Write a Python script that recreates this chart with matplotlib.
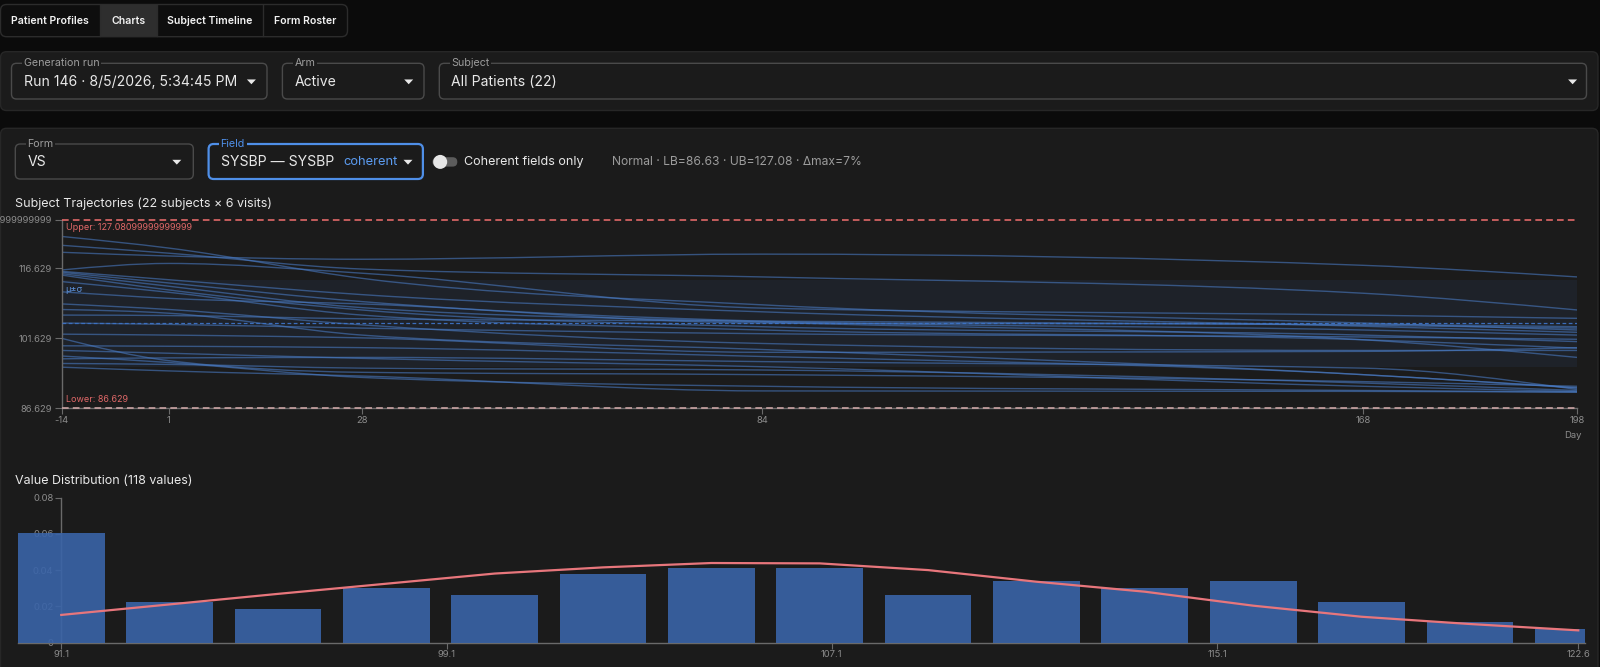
import numpy as np
import matplotlib
matplotlib.use('Agg')
import matplotlib.pyplot as plt
from matplotlib.patches import FancyBboxPatch, Rectangle, Polygon, Circle, PathPatch
from matplotlib.path import Path

# ---------------- data ----------------
days = [-14, 1, 28, 84, 168, 198]
subject_values = [
    [123.5, 121.0, 114.5, 108.8, 104.9, 103.4],
    [121.6, 119.9, 116.5, 114.8, 111.3, 107.7],
    [120.1, 119.3, 118.6, 119.7, 117.3, 114.8],
    [116.3, 117.7, 115.6, 108.1, 106.6, 105.9],
    [116.0, 114.2, 111.0, 107.3, 104.2, 102.9],
    [115.8, 113.5, 109.5, 105.3, 103.4, 102.3],
    [115.5, 112.8, 108.2, 105.1, 101.3, 97.5],
    [115.2, 112.0, 107.7, 104.1, 102.3, 100.9],
    [113.8, 111.5, 106.6, 103.4, 101.3, 99.5],
    [111.6, 110.2, 109.0, 104.9, 104.6, 104.1],
    [106.6, 106.5, 105.8, 105.3, 104.4, 103.8],
    [104.9, 104.6, 103.8, 102.6, 101.9, 101.4],
    [102.5, 102.3, 101.7, 98.6, 98.8, 99.6],
    [101.6, 96.8, 94.3, 93.8, 92.3, 91.3],
    [100.0, 99.9, 99.6, 97.7, 93.8, 90.9],
    [97.2, 97.4, 97.5, 96.6, 95.2, 90.6],
    [99.0, 98.4, 97.3, 95.5, 91.3, 90.2],
    [96.2, 96.0, 95.2, 94.8, 92.0, 90.4],
    [97.8, 96.4, 93.2, 91.3, 90.4, 90.1],
    [95.4, 94.6, 93.5, 90.3, 90.2, 90.0],
    [109.0, 107.8, 104.5, 100.5, 99.0, 99.0],
    [107.8, 107.0, 102.3, 99.2, 93.8, 91.0],
]
lower_bound = 86.629
upper_bound = 127.081
upper_label = "127.08099999999999"
mean_value = 104.8
sd_value = 9.3
y_ticks = [86.629, 101.629, 116.629, 127.081]
y_tick_labels = ["86.629", "101.629", "116.629", "127.08099999999999"]

bin_centers = [91.1, 93.35, 95.6, 97.85, 100.1, 102.35, 104.6, 106.85,
               109.1, 111.35, 113.6, 115.85, 118.1, 120.35, 122.6]
bin_counts = [16, 6, 5, 8, 7, 10, 11, 11, 7, 9, 8, 9, 6, 3, 2]
n_values = 118
bin_width = 2.25
normal_curve = [0.0153, 0.0211, 0.0269, 0.0325, 0.0381, 0.0415, 0.0439, 0.0437,
                0.0400, 0.0336, 0.0281, 0.0204, 0.0143, 0.0103, 0.0068]
hist_xticks = [91.1, 99.1, 107.1, 115.1, 122.6]
hist_yticks = [0, 0.02, 0.04, 0.06, 0.08]
hist_ytick_labels = ["0", "0.02", "0.04", "0.06", "0.08"]

tabs = ["Patient Profiles", "Charts", "Subject Timeline", "Form Roster"]

# ---------------- style ----------------
plt.rcParams['font.family'] = ['Inter', 'DejaVu Sans']
W, H = 1600, 667
PAGE = '#0b0b0b'
PANEL = '#1b1b1b'
PANEL_EC = '#272727'
BOX_EC = '#4a4a4a'
TXT = '#e8e8e8'
SUB = '#9c9c9c'
TICK = '#8c8c8c'
AXIS = '#6a6a6a'
BLUE = '#4f8fe8'
RED = '#e06868'
VAL_FS = 10.1
TICK_FS = 6.8

fig = plt.figure(figsize=(16, 6.67), dpi=100)
fig.patch.set_facecolor(PAGE)

ui = fig.add_axes([0, 0, 1, 1])
ui.set_xlim(0, W)
ui.set_ylim(H, 0)
ui.axis('off')


def px_axes(l, t, r, b):
    return fig.add_axes([l / W, 1 - b / H, (r - l) / W, (b - t) / H])


def rbox(x0, y0, x1, y1, fc, ec, lw=1.0, r=5, z=1):
    p = FancyBboxPatch((x0, y0), x1 - x0, y1 - y0,
                       boxstyle=f"round,pad=0,rounding_size={r}",
                       fc=fc, ec=ec, lw=lw, zorder=z)
    ui.add_patch(p)


def arrow(cx, cy, color=TXT):
    ui.add_patch(Polygon([(cx - 4.5, cy - 2.2), (cx + 4.5, cy - 2.2), (cx, cy + 2.6)],
                         closed=True, fc=color, ec='none', zorder=5))


def dropdown(x0, y0, x1, y1, label, value, arrow_x, ec=BOX_EC, lab_color=SUB, lw=1.0):
    rbox(x0, y0, x1, y1, PANEL, ec, lw=lw, r=5, z=3)
    ui.text(x0 + 12, y0, label, color=lab_color, fontsize=7.7, ha='left', va='center',
            zorder=6, bbox=dict(fc=PANEL, ec='none', pad=1.2))
    cy = (y0 + y1) / 2 + 0.5
    if value:
        ui.text(x0 + 12, cy, value, color=TXT, fontsize=VAL_FS, ha='left', va='center', zorder=6)
    arrow(arrow_x, cy)


# tabs
rbox(0.5, 4.5, 347.5, 36.7, '#0e0e0e', '#2c2c2c', r=6, z=1)
ui.add_patch(Rectangle((99.5, 5), 57.4, 31.2, fc='#2e2e2e', ec='none', zorder=2))
for xd in [99.5, 156.9, 263.3]:
    ui.plot([xd, xd], [5, 36.2], color='#2c2c2c', lw=1, zorder=3)
tab_cx = [49.8, 128.2, 210.1, 305.4]
for t, cx in zip(tabs, tab_cx):
    ui.text(cx, 21.3, t, color='#f2f2f2', fontsize=7.6, fontweight='semibold',
            ha='center', va='center', zorder=4)

# top filter panel
rbox(0.5, 51.7, 1598, 110.5, PANEL, PANEL_EC, r=6, z=1)
dropdown(11.5, 63.3, 267, 99, "Generation run", "Run 146 · 8/5/2026, 5:34:45 PM", 251.4)
dropdown(282.4, 63.3, 424, 99, "Arm", "Active", 408.7)
dropdown(439.3, 63.3, 1586.5, 99, "Subject", "All Patients (22)", 1572.6)

# second panel
rbox(0.5, 128.3, 1598, 720, PANEL, PANEL_EC, r=6, z=1)
dropdown(15.3, 144, 193.3, 179, "Form", "VS", 176.8)
dropdown(208.6, 144, 422.9, 179, "Field", None, 408, ec=BLUE, lab_color=BLUE, lw=1.6)
ui.text(220.8, 162, "SYSBP — SYSBP", color=TXT, fontsize=VAL_FS, ha='left', va='center', zorder=6)
ui.text(343.3, 162, "coherent", color='#5b9bf0', fontsize=9.3, ha='left', va='center', zorder=6)
# toggle
rbox(432.5, 157.2, 457.3, 166.6, '#5c5c5c', 'none', r=4.7, z=3)
ui.add_patch(Circle((440.2, 161.9), 7.0, fc='#e6e6e6', ec='none', zorder=4))
ui.text(464.2, 162, "Coherent fields only", color=TXT, fontsize=9.0, ha='left', va='center', zorder=6)
ui.text(611.7, 162.3, "Normal · LB=86.63 · UB=127.08 · Δmax=7%", color=SUB, fontsize=8.7,
        ha='left', va='center', zorder=6)

ui.text(15, 204, "Subject Trajectories (22 subjects × 6 visits)", color=TXT, fontsize=9.0,
        ha='left', va='center', zorder=6)
ui.text(15, 480.7, "Value Distribution (118 values)", color=TXT, fontsize=9.0,
        ha='left', va='center', zorder=6)
ui.text(1572.7, 435, "Day", color=TICK, fontsize=TICK_FS, ha='center', va='center', zorder=6)


# ---------------- trajectories ----------------
def monotone_path(xs, ys):
    xs = np.asarray(xs, float)
    ys = np.asarray(ys, float)
    n = len(xs)
    h = np.diff(xs)
    s = np.diff(ys) / h
    t = np.zeros(n)
    for i in range(1, n - 1):
        p = (s[i - 1] * h[i] + s[i] * h[i - 1]) / (h[i - 1] + h[i])
        t[i] = (np.sign(s[i - 1]) + np.sign(s[i])) * min(abs(s[i - 1]), abs(s[i]), 0.5 * abs(p))
    t[0] = (3 * s[0] - t[1]) / 2
    t[-1] = (3 * s[-1] - t[-2]) / 2
    verts = [(xs[0], ys[0])]
    codes = [Path.MOVETO]
    for i in range(n - 1):
        dx = h[i] / 3
        verts += [(xs[i] + dx, ys[i] + dx * t[i]),
                  (xs[i + 1] - dx, ys[i + 1] - dx * t[i + 1]),
                  (xs[i + 1], ys[i + 1])]
        codes += [Path.CURVE4] * 3
    return Path(verts, codes)


ax1 = px_axes(61.7, 219.8, 1577.3, 408.0)
ax1.set_facecolor('none')
ax1.set_xlim(days[0], days[-1])
ax1.set_ylim(lower_bound, upper_bound)
for sp in ['top', 'right']:
    ax1.spines[sp].set_visible(False)
for sp in ['left', 'bottom']:
    ax1.spines[sp].set_color(AXIS)
    ax1.spines[sp].set_linewidth(1.0)

ax1.fill_between([days[0], days[-1]], mean_value - sd_value, mean_value + sd_value,
                 color='#4a7bd0', alpha=0.08, lw=0, zorder=1)
for vals in subject_values:
    ax1.add_patch(PathPatch(monotone_path(days, vals), fill=False, ec='#4a7cc6',
                            lw=1.0, alpha=0.58, zorder=2))
ax1.axhline(mean_value, color='#3d72c4', lw=0.9, ls=(0, (3, 2)), alpha=0.95, zorder=3)
ax1.axhline(upper_bound, color=RED, lw=1.2, ls=(0, (4, 2.5)), clip_on=False, zorder=4)
ax1.axhline(lower_bound, color='#c9a3a3', lw=1.2, ls=(0, (4, 2.5)), clip_on=False, zorder=4)

ax1.annotate(f"Upper: {upper_label}", xy=(0, upper_bound), xycoords=('axes fraction', 'data'),
             xytext=(4, -8), textcoords='offset pixels', color=RED, fontsize=6.5,
             ha='left', va='center')
ax1.annotate("Lower: 86.629", xy=(0, lower_bound), xycoords=('axes fraction', 'data'),
             xytext=(4, 8), textcoords='offset pixels', color=RED, fontsize=6.5,
             ha='left', va='center')
ax1.annotate("μ±σ", xy=(0, mean_value + sd_value), xycoords=('axes fraction', 'data'),
             xytext=(4, -9), textcoords='offset pixels', color='#5b8fd6', fontsize=6.6,
             ha='left', va='center')

ax1.set_xticks(days)
ax1.set_xticklabels([str(d) for d in days])
ax1.set_yticks(y_ticks)
ax1.set_yticklabels(y_tick_labels)
ax1.tick_params(axis='both', colors=AXIS, labelcolor=TICK, labelsize=TICK_FS, length=5, width=0.8, pad=2)
ax1.tick_params(axis='x', length=4)

# ---------------- histogram ----------------
density = np.array(bin_counts) / (n_values * bin_width)
ax2 = px_axes(17.9, 497.5, 1585.0, 642.7)
ax2.set_facecolor('none')
ax2.set_xlim(90.2, 122.74)
ax2.set_ylim(0, 0.08)
for sp in ['top', 'right']:
    ax2.spines[sp].set_visible(False)
ax2.spines['left'].set_position(('data', bin_centers[0]))
for sp in ['left', 'bottom']:
    ax2.spines[sp].set_color(AXIS)
    ax2.spines[sp].set_linewidth(1.0)
ax2.bar(bin_centers, density, width=1.8, color='#3a64a8', alpha=0.9, zorder=3)
ax2.plot(bin_centers, normal_curve, color='#e8767c', lw=1.6, zorder=4)
ax2.set_xticks(hist_xticks)
ax2.set_xticklabels([str(v) for v in hist_xticks])
ax2.set_yticks(hist_yticks)
ax2.set_yticklabels(hist_ytick_labels)
ax2.tick_params(axis='both', colors=AXIS, labelcolor=TICK, labelsize=TICK_FS, length=4, width=0.8, pad=1.5)

fig.savefig('out.png', dpi=100, facecolor=fig.get_facecolor())
